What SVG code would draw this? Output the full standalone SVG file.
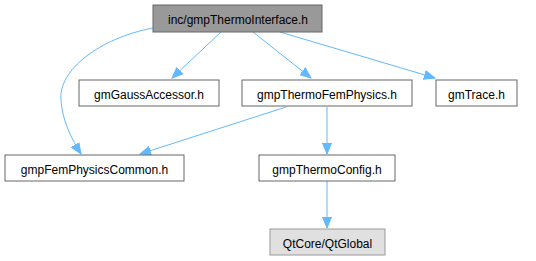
<svg xmlns="http://www.w3.org/2000/svg" width="536" height="261" viewBox="0 0 536 261">
<defs>
<style>
.n rect{fill:#fff;stroke:#666;stroke-width:1}
.n text{font-family:"Liberation Sans",Arial,sans-serif;font-size:12px;fill:#000;text-anchor:middle}
#n0 rect{fill:#999}
#n7 rect{fill:#e0e0e0;stroke:#999}
.e{fill:none;stroke:#63b8ff;stroke-width:1}
.h{fill:#63b8ff;stroke:#63b8ff}
</style>
<marker id="a" markerWidth="12" markerHeight="12" refX="11" refY="6" orient="auto" markerUnits="userSpaceOnUse"><path class="h" d="M0,1.5 L11,6 L0,10.5 Z"/></marker>
</defs>
<rect width="536" height="261" fill="#fff"/>
<g id="edges">
<path class="e" marker-end="url(#a)" d="M221,32 L172,78"/>
<path class="e" marker-end="url(#a)" d="M253,32 L311,78"/>
<path class="e" marker-end="url(#a)" d="M280,32 L435,78"/>
<path class="e" marker-end="url(#a)" d="M153,28 C100,38 58,70 61,100 C62,120 72,140 81,154"/>
<path class="e" marker-end="url(#a)" d="M286,107 L140,154"/>
<path class="e" marker-end="url(#a)" d="M327,107 L327,154"/>
<path class="e" marker-end="url(#a)" d="M327,181 L327,228"/>
</g>
<g id="n0" class="n"><rect x="153" y="5" width="169" height="27"/><text x="238" y="24">inc/gmpThermoInterface.h</text></g>
<g id="n1" class="n"><rect x="79" y="80" width="140" height="26"/><text x="149" y="98.5">gmGaussAccessor.h</text></g>
<g id="n2" class="n"><rect x="242" y="80" width="170" height="26"/><text x="327" y="98.5">gmpThermoFemPhysics.h</text></g>
<g id="n3" class="n"><rect x="436" y="80" width="81" height="26"/><text x="476.5" y="98.5">gmTrace.h</text></g>
<g id="n4" class="n"><rect x="5" y="155" width="179" height="26"/><text x="94.5" y="173.5">gmpFemPhysicsCommon.h</text></g>
<g id="n5" class="n"><rect x="259" y="155" width="136" height="26"/><text x="327" y="173.5">gmpThermoConfig.h</text></g>
<g id="n7" class="n"><rect x="270" y="229" width="115" height="26"/><text x="327.5" y="247.5">QtCore/QtGlobal</text></g>
</svg>
